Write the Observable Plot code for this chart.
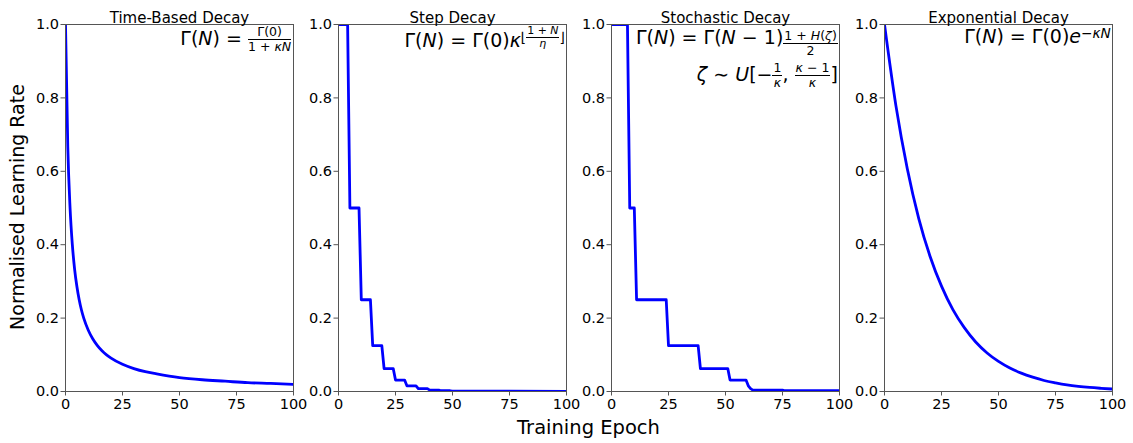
<!DOCTYPE html>
<html><head><meta charset="utf-8">
<script src="https://cdn.jsdelivr.net/npm/d3@7"></script>
<script src="https://cdn.jsdelivr.net/npm/@observablehq/plot@0.6"></script>
<style>
body{margin:0;background:#fff;font-family:"DejaVu Sans",sans-serif;}
#wrap{position:relative;width:1133px;height:443px;overflow:hidden;}
.panel{position:absolute;top:0;}
.formula{position:absolute;font-size:19px;white-space:nowrap;text-align:right;line-height:1;color:#000;}
.frac{display:inline-flex;flex-direction:column;vertical-align:middle;text-align:center;font-size:0.66em;line-height:1.1;}
.frac>span:first-child{border-bottom:1px solid #000;padding:0 1px;}
.sup{font-size:0.72em;vertical-align:0.4em;}
.ylab{position:absolute;font-size:19px;transform:translate(-50%,-50%) rotate(-90deg);white-space:nowrap;}
.xlab{position:absolute;font-size:19.5px;transform:translate(-50%,-50%);white-space:nowrap;}
</style></head><body><div id="wrap"></div>
<script>
// ---- data ----
const titles = ["Time-Based Decay", "Step Decay", "Stochastic Decay", "Exponential Decay"];
const xTicks = [0, 25, 50, 75, 100];
const yTicks = [0, 0.2, 0.4, 0.6, 0.8, 1.0];

const timeEpochs = [0, 1, 2, 3, 4, 5, 6, 7, 8, 10, 12, 14, 16, 18, 20, 25, 30, 35, 40, 50, 60, 70, 80, 90, 100];
const timeValues = [1, 0.667, 0.5, 0.4, 0.333, 0.286, 0.25, 0.222, 0.2, 0.167, 0.143, 0.125, 0.111, 0.1, 0.091, 0.074, 0.0625, 0.054, 0.048, 0.038, 0.032, 0.028, 0.024, 0.022, 0.0196];

const stepEpochs = [0, 4, 5, 9, 10, 14, 15, 19, 20, 24, 25, 29, 30, 34, 35, 39, 40, 44, 45, 49, 50, 100];
const stepValues = [1, 1, 0.5, 0.5, 0.25, 0.25, 0.125, 0.125, 0.0625, 0.0625, 0.03125, 0.03125, 0.0156, 0.0156, 0.0078, 0.0078, 0.0039, 0.0039, 0.002, 0.002, 0.001, 0.0005];

const stochEpochs = [0, 7, 8, 10, 11, 24, 25, 38, 39, 51, 52, 59, 60, 61, 62, 75, 76, 100];
const stochValues = [1, 1, 0.5, 0.5, 0.25, 0.25, 0.125, 0.125, 0.0625, 0.0625, 0.03125, 0.03125, 0.0156, 0.0078, 0.0039, 0.0039, 0.002, 0.002];

const expEpochs = [0, 5, 10, 15, 20, 25, 30, 35, 40, 45, 50, 55, 60, 65, 70, 75, 80, 85, 90, 95, 100];
const expValues = [1, 0.779, 0.607, 0.472, 0.368, 0.287, 0.223, 0.174, 0.135, 0.105, 0.082, 0.064, 0.050, 0.039, 0.030, 0.0235, 0.018, 0.014, 0.011, 0.0087, 0.0067];

const series = [
  {epochs: timeEpochs, values: timeValues, curve: "monotone-x"},
  {epochs: stepEpochs, values: stepValues, curve: "linear"},
  {epochs: stochEpochs, values: stochValues, curve: "linear"},
  {epochs: expEpochs, values: expValues, curve: "monotone-x"}
];

const formulas = [
  `Γ(<i>N</i>) = <span class="frac"><span>Γ(0)</span><span>1 + <i>κN</i></span></span>`,
  `Γ(<i>N</i>) = Γ(0)<i>κ</i><span class="sup">⌊<span class="frac" style="font-size:0.8em"><span>1 + <i>N</i></span><span><i>η</i></span></span>⌋</span>`,
  `Γ(<i>N</i>) = Γ(<i>N</i> − 1)<span class="frac" style="vertical-align:0.3em"><span>1 + <i>H</i>(<i>ζ</i>)</span><span>2</span></span><br><span style="display:inline-block;margin-top:4px"><i>ζ</i> ∼ <i>U</i>[−<span class="frac"><span>1</span><span><i>κ</i></span></span>, <span class="frac"><span><i>κ</i> − 1</span><span><i>κ</i></span></span>]</span>`,
  `Γ(<i>N</i>) = Γ(0)<i>e</i><span class="sup">−<i>κN</i></span>`
];
const formulaTops = [25, 25, 27.5, 26.5];

// ---- layout ----
const frameLefts = [64.7, 338.3, 611.3, 884.3];
const frameW = 228, frameTop = 23.5, frameH = 367;
const mL = 40, mR = 12, mT = 24, mB = 40;

const wrap = document.getElementById("wrap");

series.forEach((s, i) => {
  const data = s.epochs.map((e, j) => ({epoch: e, value: s.values[j]}));
  const chart = Plot.plot({
    width: mL + frameW + mR,
    height: mT + frameH + mB,
    marginLeft: mL, marginRight: mR, marginTop: mT, marginBottom: mB,
    style: {fontFamily: "DejaVu Sans, sans-serif", fontSize: "14.5px", color: "#000", background: "transparent", overflow: "visible", maxWidth: "none"},
    x: {domain: [0, 100]},
    y: {domain: [0, 1]},
    marks: [
      Plot.line(data, {x: "epoch", y: "value", stroke: "#0000ff", strokeWidth: 2.8, curve: s.curve, clip: true, strokeLinejoin: "round"}),
      Plot.frame({stroke: "#555", strokeWidth: 1}),
      Plot.axisX({ticks: xTicks, tickFormat: d => String(d), tickSize: 4.5, tickPadding: 3, label: null, stroke: "#555"}),
      Plot.axisY({ticks: yTicks, tickFormat: d3.format(".1f"), tickSize: 4.5, tickPadding: 2, label: null, stroke: "#555"}),
      Plot.text([titles[i]], {frameAnchor: "top", dy: -12.5, text: d => d, fontSize: 15})
    ]
  });
  const div = document.createElement("div");
  div.className = "panel";
  div.style.left = (frameLefts[i] - mL) + "px";
  div.style.top = (frameTop - mT) + "px";
  div.appendChild(chart);
  wrap.appendChild(div);

  const f = document.createElement("div");
  f.className = "formula";
  f.innerHTML = formulas[i];
  f.style.right = (1133 - (frameLefts[i] + frameW) + 1.5) + "px";
  f.style.top = formulaTops[i] + "px";
  wrap.appendChild(f);
});

const yl = document.createElement("div");
yl.className = "ylab";
yl.textContent = "Normalised Learning Rate";
yl.style.left = "17px";
yl.style.top = (frameTop + frameH / 2) + "px";
wrap.appendChild(yl);

const xl = document.createElement("div");
xl.className = "xlab";
xl.textContent = "Training Epoch";
xl.style.left = ((frameLefts[0] + frameLefts[3] + frameW) / 2) + "px";
xl.style.top = "427px";
wrap.appendChild(xl);
</script>
</body></html>
